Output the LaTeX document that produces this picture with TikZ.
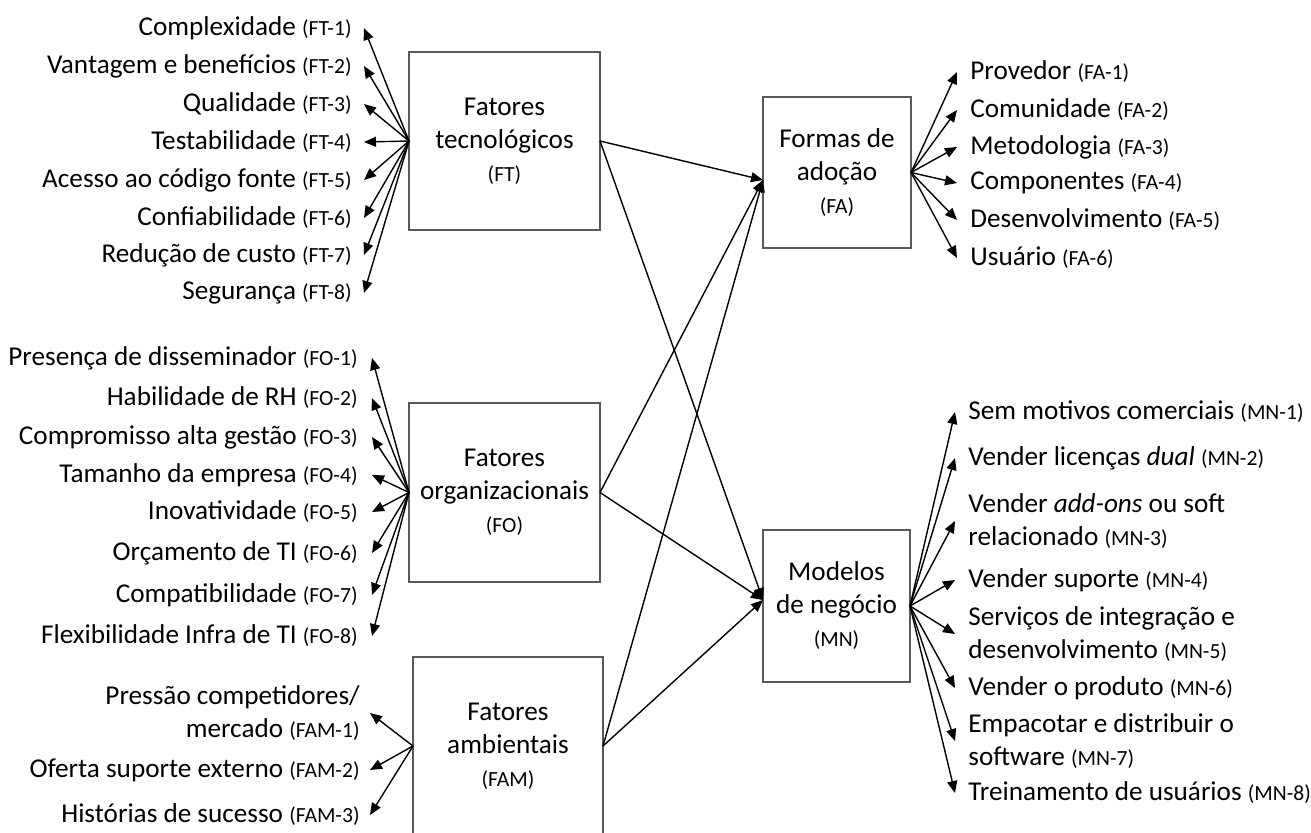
\documentclass[tikz,border=0pt]{standalone}
\usepackage{fontspec}
\setmainfont{Carlito}
\usetikzlibrary{arrows.meta}
\newcommand{\cdt}[1]{{\fontsize{10.8pt}{16.5pt}\selectfont(#1)}}
\begin{document}
\begin{tikzpicture}[x=0.5pt,y=-0.5pt,
  box/.style={draw=black!65,line width=1.1pt,inner sep=0pt,outer sep=0pt,align=center,
    font=\fontsize{13.6pt}{16.5pt}\selectfont},
  labl/.style={inner sep=0pt,anchor=east,align=right,font=\fontsize{13.6pt}{16.5pt}\selectfont},
  labr/.style={inner sep=0pt,anchor=west,align=left,font=\fontsize{13.6pt}{16.5pt}\selectfont},
  arr/.style={-{Triangle[length=6pt,width=5pt]},line width=0.7pt,black}]
\useasboundingbox (0,0) rectangle (1311,832);
\clip (0,0) rectangle (1311,832);
% boxes
\node[box,minimum width=95.5pt,minimum height=89pt] (FT) at (504.5,141) {Fatores\\tecnológicos\\\cdt{FT}};
\node[box,minimum width=95.5pt,minimum height=89.5pt] (FO) at (504.5,492.5) {Fatores\\organizacionais\\\cdt{FO}};
\node[box,minimum width=95pt,minimum height=89pt] (FAM) at (508,746) {Fatores\\ambientais\\\cdt{FAM}};
\node[box,minimum width=74pt,minimum height=75.5pt] (FA) at (837,172.5) {Formas de\\adoção\\\cdt{FA}};
\node[box,minimum width=73.5pt,minimum height=76pt] (MN) at (836.5,606) {Modelos\\de negócio\\\cdt{MN}};
% FT labels
\node[labl] (ft1) at (352,28) {Complexidade \cdt{FT-1}};
\node[labl] (ft2) at (352,66) {Vantagem e benefícios \cdt{FT-2}};
\node[labl] (ft3) at (352,104) {Qualidade \cdt{FT-3}};
\node[labl] (ft4) at (352,142) {Testabilidade \cdt{FT-4}};
\node[labl] (ft5) at (352,180) {Acesso ao código fonte \cdt{FT-5}};
\node[labl] (ft6) at (352,218) {Confiabilidade \cdt{FT-6}};
\node[labl] (ft7) at (352,255) {Redução de custo \cdt{FT-7}};
\node[labl] (ft8) at (352,293) {Segurança \cdt{FT-8}};
% FO labels
\node[labl] (fo1) at (358,358) {Presença de disseminador \cdt{FO-1}};
\node[labl] (fo2) at (358,398) {Habilidade de RH \cdt{FO-2}};
\node[labl] (fo3) at (358,437) {Compromisso alta gestão \cdt{FO-3}};
\node[labl] (fo4) at (358,475) {Tamanho da empresa \cdt{FO-4}};
\node[labl] (fo5) at (358,512) {Inovatividade \cdt{FO-5}};
\node[labl] (fo6) at (358,553) {Orçamento de TI \cdt{FO-6}};
\node[labl] (fo7) at (358,595) {Compatibilidade \cdt{FO-7}};
\node[labl] (fo8) at (358,636) {Flexibilidade Infra de TI \cdt{FO-8}};
% FAM labels
\node[labl] (fam1) at (360,713) {Pressão competidores/\\mercado \cdt{FAM-1}};
\node[labl] (fam2) at (360,770) {Oferta suporte externo \cdt{FAM-2}};
\node[labl] (fam3) at (360,815) {Histórias de sucesso \cdt{FAM-3}};
% FA labels
\node[labr] (fa1) at (970,72) {Provedor \cdt{FA-1}};
\node[labr] (fa2) at (970,110) {Comunidade \cdt{FA-2}};
\node[labr] (fa3) at (970,147) {Metodologia \cdt{FA-3}};
\node[labr] (fa4) at (970,183) {Componentes \cdt{FA-4}};
\node[labr] (fa5) at (970,220) {Desenvolvimento \cdt{FA-5}};
\node[labr] (fa6) at (970,258) {Usuário \cdt{FA-6}};
% MN labels
\node[labr] (mn1) at (968,412) {Sem motivos comerciais \cdt{MN-1}};
\node[labr] (mn2) at (968,458) {Vender licenças \textit{dual} \cdt{MN-2}};
\node[labr] (mn3) at (968,521) {Vender \textit{add-ons} ou soft\\relacionado \cdt{MN-3}};
\node[labr] (mn4) at (968,580) {Vender suporte \cdt{MN-4}};
\node[labr] (mn5) at (968,634) {Serviços de integração e\\desenvolvimento \cdt{MN-5}};
\node[labr] (mn6) at (968,688) {Vender o produto \cdt{MN-6}};
\node[labr] (mn7) at (968,741) {Empacotar e distribuir o\\software \cdt{MN-7}};
\node[labr] (mn8) at (968,793) {Treinamento de usuários \cdt{MN-8}};
% fans
\foreach \i in {1,...,8} \draw[arr] (FT.west) -- ([xshift=6pt]ft\i.east);
\foreach \i in {1,...,8} \draw[arr] (FO.west) -- ([xshift=7pt]fo\i.east);
\foreach \i in {1,2,3} \draw[arr] (FAM.west) -- ([xshift=5pt]fam\i.east);
\foreach \i in {1,...,6} \draw[arr] (FA.east) -- ([xshift=-6.5pt]fa\i.west);
\foreach \i in {1,...,8} \draw[arr] (MN.east) -- ([xshift=-6.5pt]mn\i.west);
% central connectors
\foreach \s in {FT,FO,FAM} {
  \draw[arr] (\s.east) -- ([yshift=-3.75pt]FA.west);
  \draw[arr] (\s.east) -- ([yshift=3pt]MN.west);
}
\end{tikzpicture}
\end{document}
